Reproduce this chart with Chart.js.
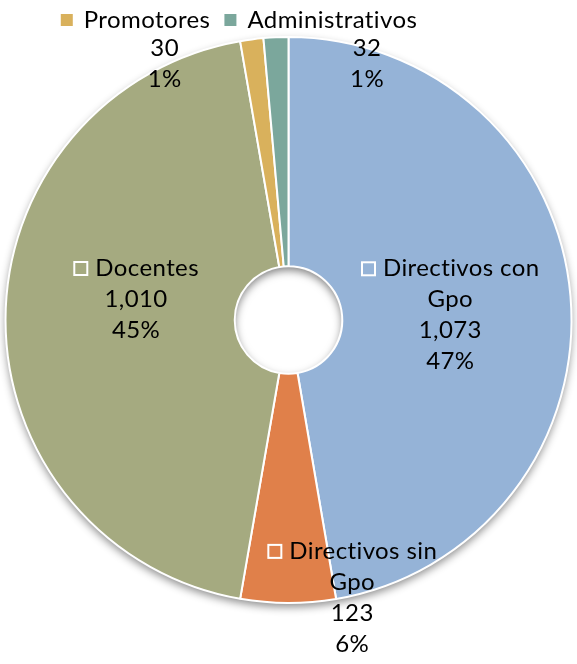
<!DOCTYPE html>
<html>
<head>
<meta charset="utf-8">
<script src="https://cdn.jsdelivr.net/npm/chart.js@4.4.0/dist/chart.umd.min.js"></script>
<style>
  html, body { margin: 0; padding: 0; background: #fff; }
  #wrap { width: 577px; height: 664px; }
</style>
</head>
<body>
<div id="wrap"><canvas id="pieChart"></canvas></div>
<script>
const categories = ['Directivos con Gpo', 'Directivos sin Gpo', 'Docentes', 'Promotores', 'Administrativos'];
const counts = [1073, 123, 1010, 30, 32];
const percentLabels = ['47%', '6%', '45%', '1%', '1%'];
const legendCategories = ['Promotores', 'Administrativos'];

const colors = ['#95B3D7', '#E0804A', '#A5AA80', '#D9B15C', '#7BA79C'];
// label nudges (px) from each arc's centre point
const labelNudge = [[-6, 9], [64, 109], [16, -21], [-102, -89], [86, -88]];
const namedLabels = [true, true, true, false, false];

const FONT = '24px Lato, "Open Sans", sans-serif';
const LINE_H = 31;

// drop shadow under the pie and inner shadow in the hole
const shadowPlugin = {
  id: 'shadow',
  beforeDatasetsDraw(chart) {
    const a = chart.getDatasetMeta(0).data[0];
    const ctx = chart.ctx;
    ctx.save();
    ctx.shadowColor = 'rgba(0,0,0,0.45)';
    ctx.shadowBlur = 8;
    ctx.shadowOffsetY = 4;
    ctx.fillStyle = '#fff';
    ctx.beginPath();
    ctx.arc(a.x, a.y, a.outerRadius, 0, Math.PI * 2);
    ctx.fill();
    ctx.restore();
  },
  afterDatasetsDraw(chart) {
    const a = chart.getDatasetMeta(0).data[0];
    const ctx = chart.ctx;
    const r = a.innerRadius;
    ctx.save();
    ctx.beginPath();
    ctx.arc(a.x, a.y, r - 1, 0, Math.PI * 2);
    ctx.clip();
    ctx.shadowColor = 'rgba(0,0,0,0.5)';
    ctx.shadowBlur = 9;
    ctx.shadowOffsetY = 4;
    ctx.fillStyle = '#fff';
    ctx.beginPath();
    ctx.arc(a.x, a.y, r + 40, 0, Math.PI * 2);
    ctx.arc(a.x, a.y, r, 0, Math.PI * 2, true);
    ctx.fill('evenodd');
    ctx.restore();
  }
};

function wrapWords(ctx, text, maxW, firstIndent) {
  const words = text.split(' ');
  const lines = [];
  let cur = '';
  words.forEach(w => {
    const test = cur ? cur + ' ' + w : w;
    const indent = lines.length === 0 ? firstIndent : 0;
    if (cur && ctx.measureText(test).width + indent > maxW) {
      lines.push(cur);
      cur = w;
    } else {
      cur = test;
    }
  });
  if (cur) lines.push(cur);
  return lines;
}

const labelPlugin = {
  id: 'sliceLabels',
  afterDatasetsDraw(chart) {
    const ctx = chart.ctx;
    const meta = chart.getDatasetMeta(0);
    ctx.save();
    ctx.font = FONT;
    ctx.letterSpacing = '0.4px'; // also turns off the "ti" ligature
    ctx.fillStyle = '#000';
    ctx.textBaseline = 'middle';
    meta.data.forEach((arc, i) => {
      const p = arc.tooltipPosition();
      const cx = p.x + labelNudge[i][0];
      const cy = p.y + labelNudge[i][1];
      let lines = [];
      if (namedLabels[i]) lines = wrapWords(ctx, categories[i], 192, 22);
      const nameCount = lines.length;
      lines.push(counts[i].toLocaleString('en-US'));
      lines.push(percentLabels[i]);
      let y = cy - (lines.length - 1) * LINE_H / 2;
      lines.forEach((line, k) => {
        if (k === 0 && nameCount > 0) {
          const w = 22 + ctx.measureText(line).width;
          const x0 = cx - w / 2;
          ctx.strokeStyle = '#fff';
          ctx.lineWidth = 2;
          ctx.strokeRect(x0 + 1, y - 6, 13, 13);
          ctx.textAlign = 'left';
          ctx.fillText(line, x0 + 22, y);
        } else {
          ctx.textAlign = 'center';
          ctx.fillText(line, cx, y);
        }
        y += LINE_H;
      });
    });
    ctx.restore();
  }
};

const legendPlugin = {
  id: 'topLegend',
  afterDraw(chart) {
    const ctx = chart.ctx;
    ctx.save();
    ctx.font = FONT;
    ctx.letterSpacing = '0.4px';
    ctx.textBaseline = 'middle';
    const box = 12, gap = 11, spacing = 14;
    const widths = legendCategories.map(n => box + gap + ctx.measureText(n).width);
    const total = widths.reduce((s, w) => s + w, 0) + spacing * (widths.length - 1);
    let x = 239 - total / 2;
    const y = 20;
    legendCategories.forEach((name, k) => {
      const idx = categories.indexOf(name);
      ctx.fillStyle = colors[idx];
      ctx.fillRect(x, y - 6, box, box);
      ctx.fillStyle = '#000';
      ctx.textAlign = 'left';
      ctx.fillText(name, x + box + gap, y);
      x += widths[k] + spacing;
    });
    ctx.restore();
  }
};

new Chart(document.getElementById('pieChart'), {
  type: 'doughnut',
  data: {
    labels: categories,
    datasets: [{
      data: counts,
      backgroundColor: colors,
      borderColor: '#fff',
      borderWidth: 2
    }]
  },
  options: {
    responsive: true,
    maintainAspectRatio: false,
    animation: false,
    cutout: '19%',
    layout: { padding: { top: 36, bottom: 60, left: 0, right: 0 } },
    plugins: {
      legend: { display: false },
      tooltip: { enabled: false }
    }
  },
  plugins: [shadowPlugin, labelPlugin, legendPlugin]
});
</script>
</body>
</html>
